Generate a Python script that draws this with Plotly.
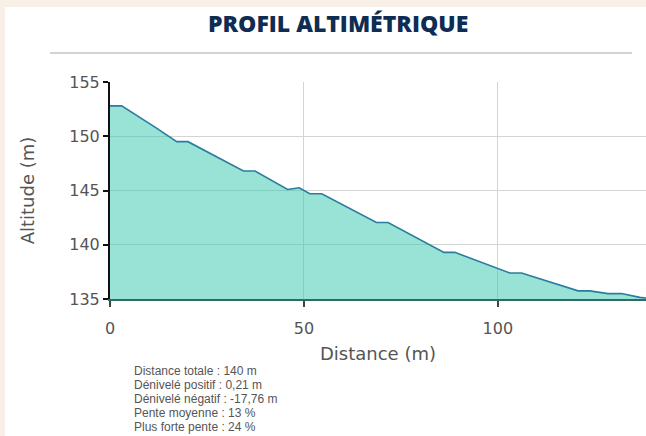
import plotly.graph_objects as go

# Data
distance_m = [0, 3, 12.0, 17.2, 20.1, 34.4, 37.4, 45.8, 48.8, 51.5, 54.6, 68.7, 71.7,
              86.1, 88.9, 103.1, 106.1, 120.7, 123.7, 128.4, 131.9, 136.6, 140]
altitude_m = [152.8, 152.8, 150.75, 149.5, 149.5, 146.8, 146.8, 145.1, 145.25, 144.7, 144.7,
              142.05, 142.05, 139.3, 139.3, 137.4, 137.4, 135.75, 135.75, 135.5, 135.5,
              135.15, 135.04]
x_ticks = [0, 50, 100]
y_ticks = [135, 140, 145, 150, 155]
stats_lines = [
    "Distance totale : 140 m",
    "Dénivelé positif : 0,21 m",
    "Dénivelé négatif : -17,76 m",
    "Pente moyenne : 13 %",
    "Plus forte pente : 24 %",
]
title_text = "PROFIL ALTIMÉTRIQUE"

W, H = 646, 436
ML, MR, MT, MB = 110, 0, 82, 137
PW, PH = W - ML - MR, H - MT - MB

def px_x(px):
    return (px - ML) / PW

def px_y(py):
    return (H - MB - py) / PH

fig = go.Figure()
fig.add_trace(go.Scatter(
    x=distance_m, y=altitude_m, mode="lines", fill="tozeroy",
    line=dict(color="#2a7d9e", width=1.6),
    fillcolor="rgba(49,197,173,0.5)", hoverinfo="skip", showlegend=False,
))

shapes = [
    # white card
    dict(type="rect", xref="paper", yref="paper", x0=px_x(5), x1=px_x(W + 5),
         y0=px_y(H + 5), y1=px_y(7), fillcolor="white", line=dict(width=0), layer="below"),
    # separator under the title
    dict(type="line", xref="paper", yref="paper", x0=px_x(50), x1=px_x(632),
         y0=px_y(53), y1=px_y(53), line=dict(color="#d3d3d3", width=2)),
]

annotations = [
    dict(text=title_text, xref="paper", yref="paper", x=px_x(338), y=px_y(23),
         xanchor="center", yanchor="middle", showarrow=False,
         font=dict(family="Open Sans", size=23, color="#0f2d52", weight=800)),
]
for i, line in enumerate(stats_lines):
    annotations.append(dict(
        text=line, xref="paper", yref="paper", x=px_x(132), y=px_y(371 + 14 * i),
        xanchor="left", yanchor="middle", showarrow=False,
        font=dict(family="Liberation Sans, Arial", size=12, color="#555555")))

fig.update_layout(
    width=W, height=H, margin=dict(l=ML, r=MR, t=MT, b=MB),
    paper_bgcolor="#f8f0e7", plot_bgcolor="white",
    shapes=shapes, annotations=annotations,
    xaxis=dict(range=[0, 138.2], tickvals=x_ticks, showgrid=True, gridcolor="#d4d4d4",
               gridwidth=1, zeroline=False, showline=True, linecolor="#2f6a63", linewidth=2,
               ticks="outside", ticklen=6, tickwidth=2, tickcolor="#444444",
               ticklabelstandoff=8,
               tickfont=dict(family="DejaVu Sans", size=16, color="#555555"),
               title=dict(text="Distance (m)", standoff=10,
                          font=dict(family="DejaVu Sans", size=18, color="#555555"))),
    yaxis=dict(range=[135, 155], tickvals=y_ticks, showgrid=True, gridcolor="#d4d4d4",
               gridwidth=1, zeroline=False, showline=True, linecolor="#111111", linewidth=2,
               ticks="outside", ticklen=5, tickwidth=2, tickcolor="#111111",
               tickfont=dict(family="DejaVu Sans", size=16, color="#555555"),
               title=dict(text="Altitude (m)", standoff=30,
                          font=dict(family="DejaVu Sans", size=18, color="#555555"))),
)

fig.write_html("out.html", config={"displayModeBar": False},
               post_script="document.body.style.margin='0';document.body.style.overflow='hidden';")
